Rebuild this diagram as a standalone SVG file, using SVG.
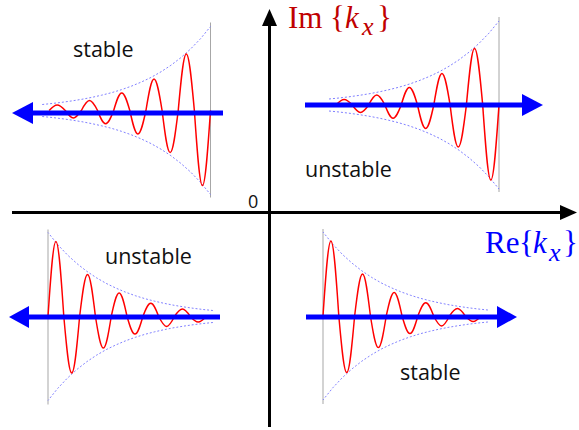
<svg xmlns="http://www.w3.org/2000/svg" xmlns:xlink="http://www.w3.org/1999/xlink" width="579" height="430" viewBox="0 0 579 430">
<style>
.axis{stroke:#000;stroke-width:3;fill:none}
.axhead{fill:#000}
.arr{stroke:#0000ff;stroke-width:5;fill:none}
.arrhead{fill:#0000ff}
.grey{stroke:#a6a6a6;stroke-width:1;fill:none}
.env{stroke:#7f7fff;stroke-width:1;stroke-dasharray:2 2;fill:none}
.wave{stroke:#ff0000;stroke-width:1.5;fill:none}
.lbl{font-family:"Open Sans","Liberation Sans",sans-serif;font-size:21.5px;fill:#111}
.zero{font-family:"Open Sans","Liberation Sans",sans-serif;font-size:18px;fill:#111}
.math{font-family:"Liberation Serif","DejaVu Serif",serif;font-size:31px}
.var{font-style:italic}
.sub{font-style:italic;font-size:26px}
</style>
<defs>
<g id="packet">
<line class="grey" x1="0" y1="-88" x2="0" y2="87"/>
<polyline class="env" points="-170,-6 -160,-7 -150,-8.2 -140,-9.6 -130,-11.2 -120,-13.1 -110,-15.3 -100,-17.8 -90,-20.8 -80,-24.3 -70,-28.4 -60,-33.1 -50,-38.7 -40,-45.2 -30,-52.8 -20,-61.6 -10,-71.9 0,-84"/>
<polyline class="env" points="-170,6 -160,7 -150,8.2 -140,9.6 -130,11.2 -120,13.1 -110,15.3 -100,17.8 -90,20.8 -80,24.3 -70,28.4 -60,33.1 -50,38.7 -40,45.2 -30,52.8 -20,61.6 -10,71.9 0,84"/>
<path class="wave" d="M-163,0 C-160.34,-2.82 -157.8,-5.5 -154.85,-5.5 C-151.9,-5.5 -149.36,-2.82 -146.7,0 C-144.04,3.79 -141.5,7.4 -138.55,7.4 C-135.6,7.4 -133.06,3.79 -130.4,0 C-127.74,-5.07 -125.2,-9.9 -122.25,-9.9 C-119.3,-9.9 -116.76,-5.07 -114.1,0 C-111.44,6.76 -108.9,13.2 -105.95,13.2 C-103,13.2 -100.46,6.76 -97.8,0 C-95.14,-9.02 -92.6,-17.6 -89.65,-17.6 C-86.7,-17.6 -84.16,-9.02 -81.5,0 C-78.84,12.04 -76.3,23.5 -73.35,23.5 C-70.4,23.5 -67.86,12.04 -65.2,0 C-62.54,-16.14 -60,-31.5 -57.05,-31.5 C-54.1,-31.5 -51.56,-16.14 -48.9,0 C-46.24,21.52 -43.7,42 -40.75,42 C-37.8,42 -35.26,21.52 -32.6,0 C-29.94,-28.94 -27.4,-56.5 -24.45,-56.5 C-21.5,-56.5 -18.96,-28.94 -16.3,0 C-13.64,38.42 -11.1,75 -8.15,75 C-5.2,75 -2.66,38.42 0,0"/>
</g>
</defs>

<g id="axes">
<line class="axis" x1="12" y1="212.5" x2="562" y2="212.5"/>
<polygon class="axhead" points="577,212.5 560,205 560,220"/>
<line class="axis" x1="269.5" y1="427" x2="269.5" y2="24"/>
<polygon class="axhead" points="269.5,9 262,26 277,26"/>
<text class="zero" x="248" y="208">0</text>
<text id="im-label" class="math" y="28" fill="#c00000"><tspan x="288">Im</tspan><tspan x="330">{</tspan><tspan class="var" x="345">k</tspan><tspan class="sub" x="362" y="35">x</tspan><tspan x="377" y="28">}</tspan></text>
<text id="re-label" class="math" y="253" fill="#0000ff"><tspan x="485">Re</tspan><tspan x="519">{</tspan><tspan class="var" x="533">k</tspan><tspan class="sub" x="549" y="261">x</tspan><tspan x="563" y="253">}</tspan></text>
</g>

<g id="q-top-left">
<use xlink:href="#packet" href="#packet" transform="translate(210.5,110.5) scale(0.99,1)"/>
<line class="arr" x1="223" y1="113" x2="30" y2="113"/>
<polygon class="arrhead" points="12,113 33,102 33,124"/>
<text class="lbl" x="73" y="57">stable</text>
</g>

<g id="q-top-right">
<use xlink:href="#packet" href="#packet" transform="translate(499,105)"/>
<line class="arr" x1="305" y1="105" x2="525" y2="105"/>
<polygon class="arrhead" points="543,105 522,94 522,116"/>
<text class="lbl" x="305" y="177">unstable</text>
</g>

<g id="q-bottom-left">
<use xlink:href="#packet" href="#packet" transform="translate(48,316.5) scale(-0.97,-1)"/>
<line class="arr" x1="220" y1="317" x2="27" y2="317"/>
<polygon class="arrhead" points="9,317 29,306 29,328"/>
<text class="lbl" x="105" y="264">unstable</text>
</g>

<g id="q-bottom-right">
<use xlink:href="#packet" href="#packet" transform="translate(323,316) scale(-0.97,-1)"/>
<line class="arr" x1="306" y1="317" x2="500" y2="317"/>
<polygon class="arrhead" points="517,317 497,306 497,328"/>
<text class="lbl" x="400" y="380">stable</text>
</g>
</svg>
